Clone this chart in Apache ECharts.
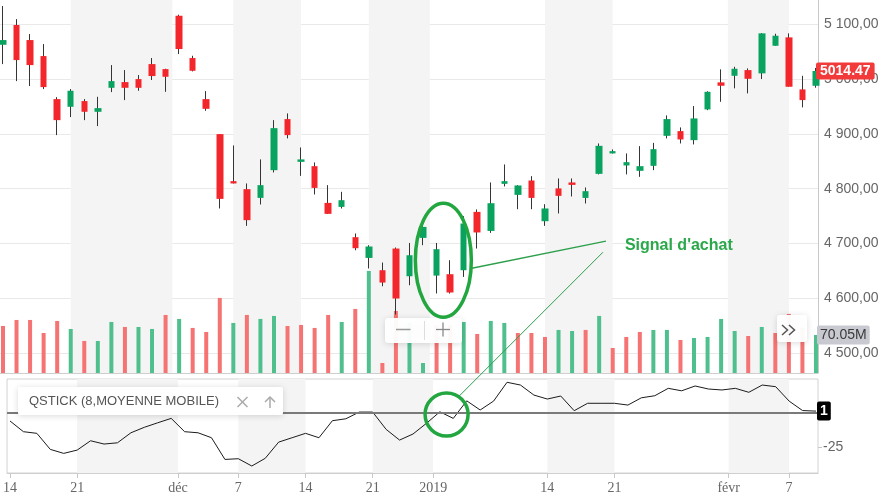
<!DOCTYPE html>
<html><head><meta charset="utf-8">
<script src="https://cdn.jsdelivr.net/npm/echarts@6/dist/echarts.min.js"></script>
<style>html,body{margin:0;padding:0;background:#fff}#c{width:887px;height:502px}</style>
</head><body><div id="c"></div>
<script>
// ---- data (CAC 40 daily, 14 nov 2018 -> 11 feb 2019) ----
const dates = ['2018-11-14','2018-11-15','2018-11-16','2018-11-19','2018-11-20','2018-11-21','2018-11-22','2018-11-23','2018-11-26','2018-11-27','2018-11-28','2018-11-29','2018-11-30',
'2018-12-03','2018-12-04','2018-12-05','2018-12-06','2018-12-07','2018-12-10','2018-12-11','2018-12-12','2018-12-13','2018-12-14','2018-12-17','2018-12-18','2018-12-19','2018-12-20','2018-12-21','2018-12-24','2018-12-27','2018-12-28','2018-12-31',
'2019-01-02','2019-01-03','2019-01-04','2019-01-07','2019-01-08','2019-01-09','2019-01-10','2019-01-11','2019-01-14','2019-01-15','2019-01-16','2019-01-17','2019-01-18','2019-01-21','2019-01-22','2019-01-23','2019-01-24','2019-01-25','2019-01-28','2019-01-29','2019-01-30','2019-01-31',
'2019-02-01','2019-02-04','2019-02-05','2019-02-06','2019-02-07','2019-02-08','2019-02-11'];
const open  = [5062.2,5098.2,5070.8,5041.6,4963.2,4949.2,4959.6,4940.1,4983.8,4994.2,4999.7,5027.0,5017.9,
5115.1,5038.0,4963.2,4899.4,4813.7,4799.1,4783.2,4833.7,4926.8,4848.9,4841.0,4774.1,4766.8,4711.6,4673.8,4651.4,4690.9,4640.4,4710.3,
4641.6,4644.1,4651.4,4757.7,4723.0,4808.8,4788.7,4814.9,4740.7,4800.5,4811.3,4783.2,4827.0,4864.2,4842.3,4832.5,4841.6,4896.3,4904.9,4888.4,4944.4,4993.7,
5005.7,5016.1,5010.1,5060.4,5075.7,4980.9,4987.5];
const close = [5070.8,5034.3,5025.2,4985.1,4924.9,4978.4,4940.1,4946.8,4996.0,4983.8,4983.8,5005.2,5003.9,
5054.4,5014.8,4945.5,4781.4,4809.5,4742.6,4806.4,4910.3,4897.6,4853.3,4801.4,4754.1,4779.0,4691.5,4694.6,4628.9,4599.8,4678.7,4730.3,
4689.7,4610.8,4736.5,4720.2,4773.5,4813.7,4805.8,4783.2,4763.9,4786.9,4806.9,4795.4,4878.1,4868.4,4848.3,4841.0,4872.0,4926.8,4889.7,4928.0,4976.5,4987.5,
5018.5,5000.2,5083.0,5078.7,4985.7,4961.4,5014.47];
const low   = [5027.0,4996.0,4987.0,4981.5,4897.6,4930.4,4924.9,4914.0,4976.0,4961.4,4978.4,4998.0,4976.5,
5045.3,5013.7,4941.9,4763.9,4809.5,4732.2,4771.2,4829.5,4891.6,4823.3,4789.4,4754.1,4763.9,4687.8,4654.5,4622.2,4570.6,4624.0,4697.0,
4609.0,4608.9,4639.2,4690.9,4719.4,4804.1,4762.6,4762.6,4732.2,4754.8,4785.8,4773.0,4826.0,4864.2,4826.0,4821.5,4833.7,4891.6,4882.4,4880.6,4943.0,4958.3,
4982.8,4973.6,4999.7,5060.4,4985.7,4948.1,4984.0];
const high  = [5132.8,5109.0,5081.8,5063.5,4966.8,4981.5,4963.2,4967.4,5025.2,5016.1,5007.0,5038.0,5018.5,
5117.0,5042.2,4977.8,4899.4,4878.8,4809.5,4853.3,4924.9,4937.1,4875.1,4847.8,4806.4,4794.2,4718.3,4696.9,4665.4,4692.8,4701.1,4732.9,
4701.1,4669.6,4749.9,4762.1,4811.3,4844.1,4806.5,4822.8,4771.7,4818.6,4818.6,4802.2,4882.4,4871.5,4864.2,4877.5,4883.5,4933.5,4911.6,4950.5,4977.5,5017.4,
5022.1,5019.2,5083.5,5082.3,5083.0,5005.7,5020.0];
// volume in millions
const volume = [86.6,97.7,97.7,73.7,95.9,81.1,59.0,59.0,94.0,84.8,84.8,81.1,106.9,
99.6,83.0,75.6,138.3,92.2,106.9,99.6,105.1,86.6,88.5,83.0,106.9,94.0,118.0,188.0,18.4,114.3,92.2,18.4,
88.5,88.5,94.0,71.9,95.9,92.2,73.7,73.7,66.4,79.3,77.4,79.3,105.1,46.1,66.4,75.6,79.3,79.3,60.8,64.5,66.4,99.6,
77.4,68.2,84.8,73.7,108.8,83.0,70.05];
const volumeUp = [0,0,0,0,0,1,0,1,1,0,1,1,0,
1,0,0,0,1,0,1,1,0,0,0,0,1,0,1,0,0,1,1,
0,0,1,0,1,1,0,0,0,1,1,0,1,0,0,0,1,1,0,1,1,1,
1,0,1,0,0,0,1];
const qstick = [-6.0,-13.8,-15.0,-26.7,-29.6,-27.2,-20.4,-22.8,-21.9,-14.6,-10.6,-7.3,-4.1,
-13.8,-14.6,-18.2,-34.0,-33.5,-38.8,-33.2,-21.4,-18.2,-15.0,-18.2,-5.8,-4.4,0.5,0.5,-12.1,-19.9,-15.5,-7.7,
0.7,-4.1,8.7,2.0,8.5,22.2,20.2,12.9,10.0,12.2,1.5,6.9,6.9,6.9,5.6,10.9,12.4,17.8,16.0,19.5,17.3,16.6,
17.8,14.9,20.2,19.0,8.5,1.6,1.2];
// axis ticks
const xTickIndex  = [0,5,12.5,17,22,27,31.5,40,45,53.5,58];
const xTickLabels = ['14','21','déc','7','14','21','2019','14','21','févr','7'];
const priceTicks = [4500,4600,4700,4800,4900,5000,5100];
const priceTickLabels = ['4 500,00','4 600,00','4 700,00','4 800,00','4 900,00','5 000,00','5 100,00'];
const qTicks = [-25];
const qTickLabels = ['-25'];
const lastPriceLabel = '5014.47';
const lastVolumeLabel = '70.05M';

// ---- chart ----
const N = close.length;
const UP = '#09a35f', DOWN = '#f3262c';
const HIDDEN_LINE = {color:'rgba(0,0,0,0)', width:0, opacity:1};
const chart = echarts.init(document.getElementById('c'));
const xCommon = {
  type:'value', min:-0.22, max:60.15,
  axisLine:{show:true, onZero:false, lineStyle:{color:'#cfcfcf'}},
  splitLine:{show:false},
  splitArea:{show:true, areaStyle:{color:['rgba(255,255,255,0)','#f4f4f4']}}
};
const option = {
  animation:false,
  grid:[
    {left:0, right:69, top:0, height:373},
    {left:0, right:69, top:379, height:94, show:true, borderColor:'#d2d2d2', borderWidth:1}
  ],
  xAxis:[
    Object.assign({}, xCommon, {gridIndex:0,
      axisTick:{show:false, customValues:xTickIndex},
      axisLabel:{show:false, customValues:xTickIndex}}),
    Object.assign({}, xCommon, {gridIndex:1,
      axisTick:{show:true, length:5, customValues:xTickIndex, lineStyle:{color:'#c8c8c8'}},
      axisLabel:{show:true, customValues:xTickIndex, margin:8,
        formatter:v => xTickLabels[xTickIndex.indexOf(v)],
        color:'#666', fontFamily:'Liberation Serif', fontSize:14}})
  ],
  yAxis:[
    {type:'value', gridIndex:0, position:'right', min:4464.1, max:5143.8,
     axisLine:{show:true, onZero:false, lineStyle:{color:'#c8c8c8'}},
     axisTick:{show:false, customValues:priceTicks},
     axisLabel:{customValues:priceTicks, margin:6, formatter:v => priceTickLabels[priceTicks.indexOf(v)],
       color:'#666', fontFamily:'Liberation Sans', fontSize:14},
     splitLine:{show:true, lineStyle:{color:'#e9e9e9'}}},
    {type:'value', gridIndex:0, min:0, max:687, show:false, splitLine:{show:false}},
    {type:'value', gridIndex:1, position:'right', min:-43.9, max:24.6,
     axisLine:{show:false, onZero:false},
     axisTick:{show:true, length:4, customValues:qTicks, lineStyle:{color:'#c8c8c8'}},
     axisLabel:{customValues:qTicks, margin:5, formatter:v => qTickLabels[qTicks.indexOf(v)],
       color:'#666', fontFamily:'Liberation Sans', fontSize:14},
     splitLine:{show:false}}
  ],
  series:[
    {type:'bar', name:'volume', xAxisIndex:0, yAxisIndex:1, z:2, barWidth:4, clip:false,
     data: volume.map((v,i)=>({value:[i,v], itemStyle:{color: volumeUp[i] ? '#4fc08d' : '#f57373'}})),
     markLine:{silent:true, symbol:['none','none'], animation:false,
       data:[{yAxis: volume[N-1]}], lineStyle:HIDDEN_LINE,
       label:{show:true, opacity:1, position:'end', distance:-1, formatter:lastVolumeLabel,
         backgroundColor:'#c9cad1', color:'#3a3a3a', fontSize:14, fontFamily:'Liberation Sans',
         padding:[3,3,2,3], borderRadius:2}}},
    {type:'candlestick', name:'wick', xAxisIndex:0, yAxisIndex:0, z:3, barWidth:1,
     encode:{x:0, y:[1,2,3,4]},
     data: close.map((c,i)=>[i, open[i], c, low[i], high[i]]),
     itemStyle:{color:'rgba(0,0,0,0)', color0:'rgba(0,0,0,0)', borderColor:'#353535', borderColor0:'#353535', borderWidth:1}},
    {type:'candlestick', name:'body', xAxisIndex:0, yAxisIndex:0, z:4, barWidth:7, clip:false,
     encode:{x:0, y:[1,2,3,4]},
     data: close.map((c,i)=>[i, open[i], c, Math.min(open[i],c), Math.max(open[i],c)]),
     itemStyle:{color:UP, color0:DOWN, borderColor:UP, borderColor0:DOWN, borderWidth:0},
     markLine:{silent:true, symbol:['none','none'], animation:false,
       data:[{yAxis: close[N-1]}], lineStyle:HIDDEN_LINE,
       label:{show:true, opacity:1, position:'end', distance:-2, formatter:lastPriceLabel,
         backgroundColor:'#f23a3a', color:'#fff', fontWeight:'bold', fontSize:14, fontFamily:'Liberation Sans',
         padding:[2,4,1,4], borderRadius:2}}},
    {type:'line', name:'QSTICK', xAxisIndex:1, yAxisIndex:2, z:3, symbol:'none', clip:false,
     data: qstick.map((v,i)=>[i,v]), lineStyle:{color:'#1b1b1b', width:1},
     markLine:{silent:true, symbol:['none','none'], animation:false,
       data:[
         {yAxis:0, lineStyle:{color:'#7a7a7a', width:2, type:'solid', opacity:1}, label:{show:false}},
         {yAxis:qstick[N-1], lineStyle:HIDDEN_LINE,
          label:{show:true, opacity:1, position:'end', distance:-1, formatter:String(Math.round(qstick[N-1])),
            backgroundColor:'#000', color:'#fff', fontWeight:'bold', fontSize:14, fontFamily:'Liberation Sans',
            padding:[3,3,2,3], borderRadius:2}}
       ]}}
  ]
};
chart.setOption(option);

// ---- annotations anchored to data coordinates ----
const P = (s, x, y) => chart.convertToPixel({seriesIndex:s}, [x, y]);
const G = '#22a640';
const ell = P(2, 32.5, 4669.6);
const cir = P(3, 32.5, -1.3);
const l1a = P(2, 34.6, 4655), l1b = P(2, 44.5, 4704.3);
const l2a = P(3, 33.36, 11.4), l2b = P(2, 44.28, 4684.2);
const txt = P(2, 45.9, 4695.7);
const shadow = {shadowBlur:6, shadowColor:'rgba(0,0,0,0.15)', shadowOffsetY:1};
chart.setOption({graphic:[
  {type:'ellipse', z:100, shape:{cx:ell[0], cy:ell[1], rx:28, ry:57}, style:{fill:'none', stroke:G, lineWidth:3.5}},
  {type:'circle', z:100, shape:{cx:cir[0], cy:cir[1], r:21.5}, style:{fill:'none', stroke:G, lineWidth:3.5}},
  {type:'line', z:100, shape:{x1:l1a[0], y1:l1a[1], x2:l1b[0], y2:l1b[1]}, style:{stroke:'#2d9f4c', lineWidth:1.3}},
  {type:'line', z:100, shape:{x1:l2a[0], y1:l2a[1], x2:l2b[0], y2:l2b[1]}, style:{stroke:'#2d9f4c', lineWidth:1}},
  {type:'text', z:100, x:txt[0], y:txt[1], style:{text:"Signal d'achat", fill:'#2aa84a', font:'bold 16px "Liberation Sans"', verticalAlign:'middle', align:'left'}},
  // indicator legend box
  {type:'rect', z:90, shape:{x:18, y:387, width:265, height:28, r:2}, style:Object.assign({fill:'#fff'}, shadow)},
  {type:'text', z:91, x:29, y:401.5, style:{text:'QSTICK (8,MOYENNE MOBILE)', fill:'#555', font:'13px "Liberation Sans"', verticalAlign:'middle'}},
  {type:'line', z:91, shape:{x1:237.5, y1:397, x2:247.5, y2:407}, style:{stroke:'#aaa', lineWidth:1.5}},
  {type:'line', z:91, shape:{x1:247.5, y1:397, x2:237.5, y2:407}, style:{stroke:'#aaa', lineWidth:1.5}},
  {type:'line', z:91, shape:{x1:270, y1:397, x2:270, y2:408}, style:{stroke:'#aaa', lineWidth:1.5}},
  {type:'polyline', z:91, shape:{points:[[265,402],[270,397],[275,402]]}, style:{fill:'none', stroke:'#aaa', lineWidth:1.5}},
  // zoom buttons
  {type:'rect', z:90, shape:{x:385, y:318, width:77, height:25, r:3}, style:Object.assign({fill:'rgba(255,255,255,0.96)'}, shadow)},
  {type:'line', z:91, shape:{x1:424.5, y1:321, x2:424.5, y2:340}, style:{stroke:'#ddd', lineWidth:1}},
  {type:'line', z:91, shape:{x1:396, y1:329.5, x2:410.5, y2:329.5}, style:{stroke:'#999', lineWidth:1.5}},
  {type:'line', z:91, shape:{x1:436, y1:329.5, x2:450, y2:329.5}, style:{stroke:'#888', lineWidth:1.3}},
  {type:'line', z:91, shape:{x1:443, y1:322.5, x2:443, y2:336.5}, style:{stroke:'#888', lineWidth:1.3}},
  // scroll button
  {type:'rect', z:90, shape:{x:777, y:315, width:30, height:27, r:3}, style:Object.assign({fill:'rgba(255,255,255,0.96)'}, shadow)},
  {type:'polyline', z:91, shape:{points:[[782,325],[787.5,330],[782,335]]}, style:{fill:'none', stroke:'#555', lineWidth:1.5}},
  {type:'polyline', z:91, shape:{points:[[789,325],[794.5,330],[789,335]]}, style:{fill:'none', stroke:'#555', lineWidth:1.5}}
]});
</script></body></html>
